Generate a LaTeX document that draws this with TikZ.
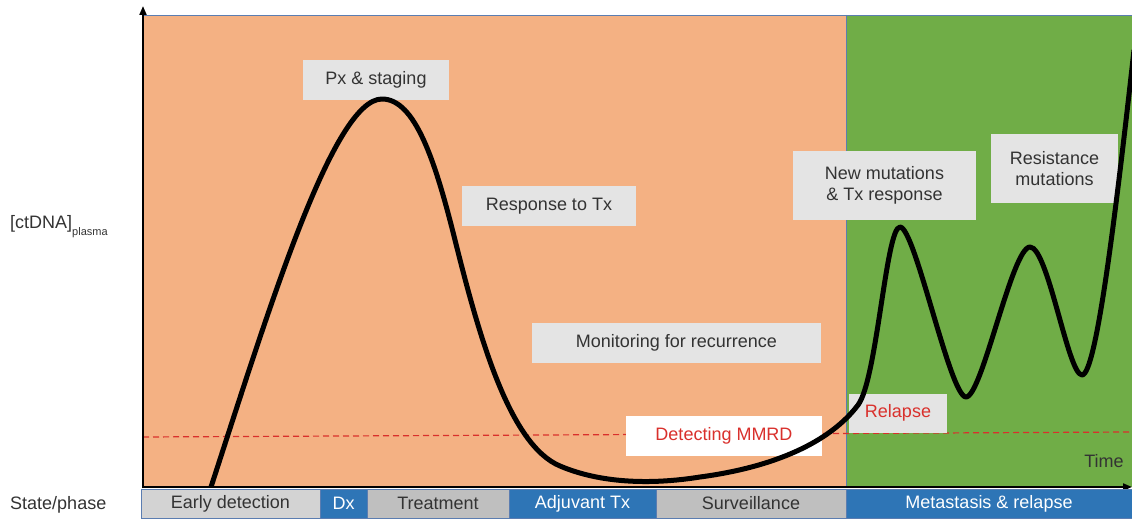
\documentclass[tikz,border=0pt]{standalone}
\usepackage{fontspec}
\setmainfont{Liberation Sans}
\usetikzlibrary{arrows.meta}
\definecolor{orng}{HTML}{F4B183}
\definecolor{grn}{HTML}{70AD47}
\definecolor{blu}{HTML}{2E75B6}
\definecolor{edge}{HTML}{5B7DB1}
\definecolor{lgray}{HTML}{E4E4E4}
\definecolor{bgrayA}{HTML}{D3D3D3}
\definecolor{bgrayB}{HTML}{BFBFBF}
\definecolor{txt}{HTML}{333333}
\definecolor{redd}{HTML}{D9302C}
\begin{document}
\begin{tikzpicture}[x=1pt,y=-1pt,font=\fontsize{18}{21}\selectfont,
  lbl/.style={fill=lgray,text=txt,inner sep=0pt,align=center,minimum height=40pt},
  seg/.style={draw=edge,line width=0.6pt,inner sep=0pt,minimum height=29pt,text=txt},
  seggray/.style={seg,fill=bgrayB},
  segblue/.style={seg,fill=blu,text=white},
  axis/.style={line width=2pt,-{Triangle[length=9pt,width=7pt]}}]
\useasboundingbox (0,0) rectangle (1132,519);
% regions
\fill[orng] (143,15) rectangle (846,487);
\fill[grn] (846,15) rectangle (1132,487);
\draw[edge,line width=0.8pt] (143,15) -- (1132,15);
\draw[edge,line width=0.8pt] (846,15) -- (846,487);
% threshold
\coordinate (thL) at (143,437);
\coordinate (thR) at (1132,432);
\draw[redd,line width=1.2pt,dash pattern=on 6pt off 4pt] (thL) -- (thR);
% labels
\node[lbl,minimum width=146pt] (px) at (376,80) {Px \& staging};
\node[lbl,minimum width=174pt] (resp) at (549,206) {Response to Tx};
\node[lbl,minimum width=289pt] (mon) at (676.5,343) {Monitoring for recurrence};
\node[lbl,fill=white,text=redd,minimum width=196pt] (mmrd) at (724,436) {Detecting MMRD};
\node[lbl,text=redd,minimum width=98pt,minimum height=39pt] (rel) at (898,413) {Relapse};
\node[lbl,minimum width=183pt,minimum height=69pt] (newmut) at (884.5,185.5) {New mutations\\\& Tx response};
\node[lbl,minimum width=127pt,minimum height=69pt] (resist) at (1054.5,168.5) {Resistance\\mutations};
\node[text=txt,inner sep=0pt] (time) at (1104,461) {Time};
\node[text=txt,anchor=west,inner sep=0pt] (ylab) at (10,227) {[ctDNA]\raisebox{-0.4em}{\fontsize{11}{13}\selectfont plasma}};
\node[text=txt,anchor=west,inner sep=0pt] (state) at (10,505) {State/phase};
% curve
\draw[line width=5pt,line join=round]
 (211,487) .. controls (268,312) and (333,99) .. (382,99)
 .. controls (415,99) and (435,160) .. (455,240)
 .. controls (480,340) and (510,445) .. (560,466)
 .. controls (600,483) and (650,485) .. (700,477)
 .. controls (775,467) and (830,442) .. (858,405)
 .. controls (877,380) and (886,227) .. (900,227)
 .. controls (915,227) and (950,397) .. (966,397)
 .. controls (982,397) and (1012,247) .. (1030,247)
 .. controls (1048,247) and (1068,375) .. (1082,375)
 .. controls (1096,375) and (1115,220) .. (1134,50);
% axes
\coordinate (O) at (143,487);
\coordinate (ytop) at (143,6);
\coordinate (xend) at (1132,487);
\draw[axis] ([yshift=-1pt]O) -- (ytop);
\draw[axis] ([xshift=-1pt]O) -- (xend);
% phase bar
\node[seg,fill=bgrayA,minimum width=179pt] (early) at (230.5,503.5) {Early detection};
\node[segblue,minimum width=47pt] (dx) at (343.5,503.5) {Dx};
\node[seggray,minimum width=142pt] (treat) at (438,503.5) {Treatment};
\node[segblue,minimum width=147pt] (adj) at (582.5,503.5) {Adjuvant Tx};
\node[seggray,minimum width=190pt] (surv) at (751,503.5) {Surveillance};
\node[segblue,minimum width=286pt] (meta) at (989,503.5) {Metastasis \& relapse};
\end{tikzpicture}
\end{document}
